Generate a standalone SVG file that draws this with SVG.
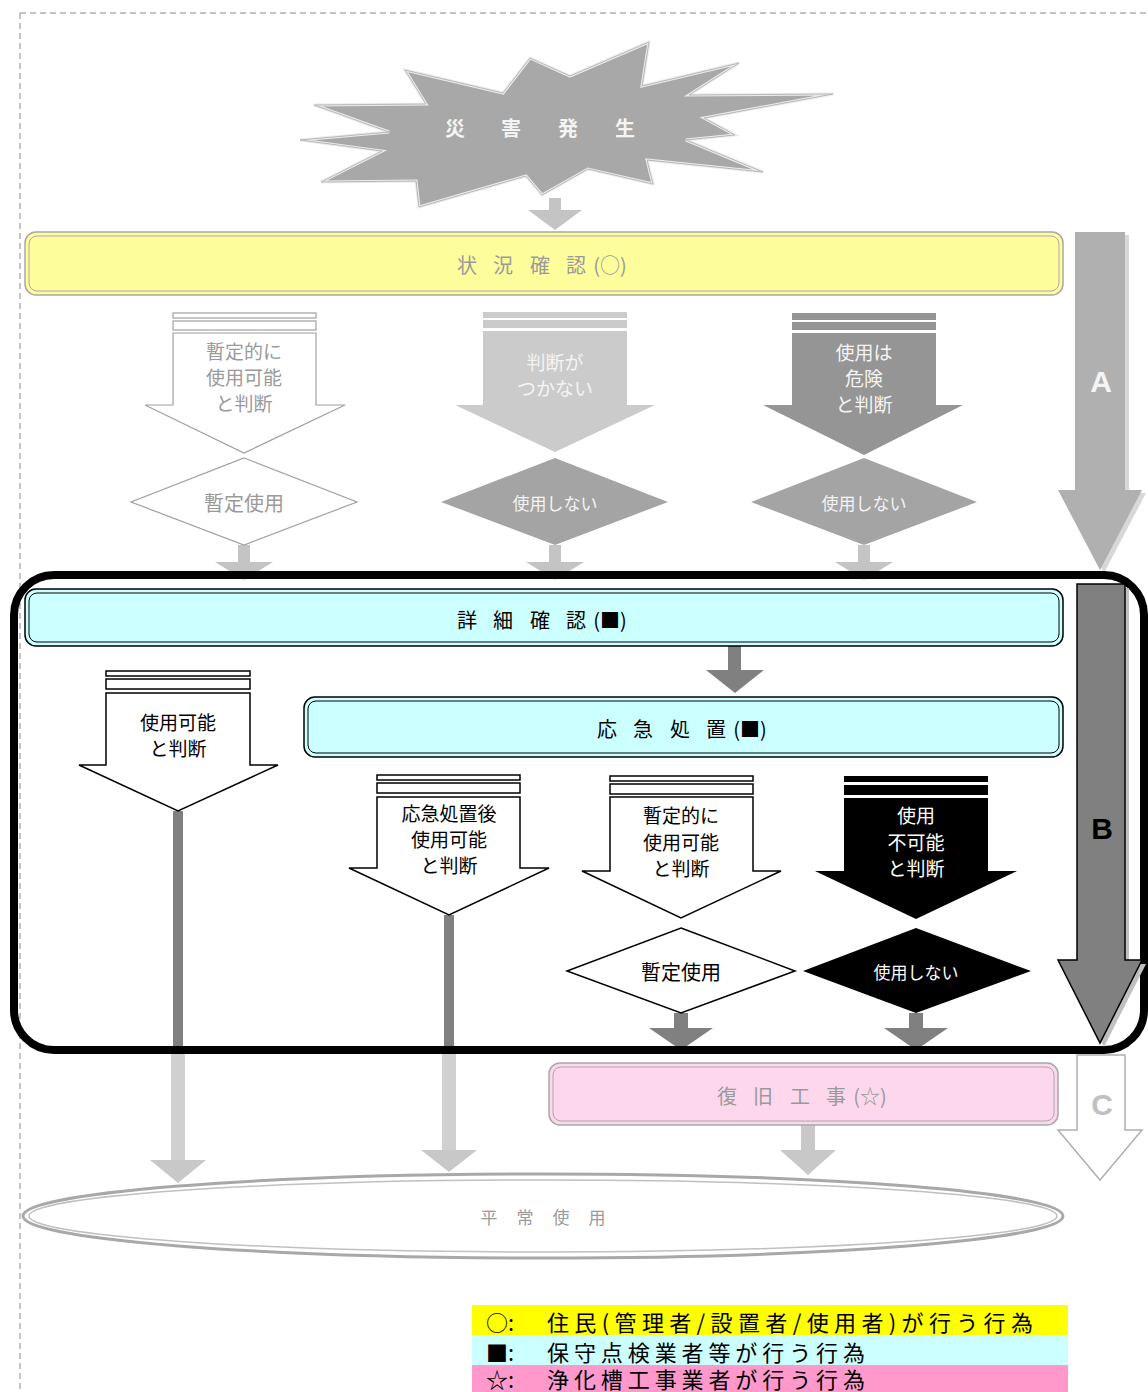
<svg xmlns="http://www.w3.org/2000/svg" width="1148" height="1392" viewBox="0 0 1148 1392">
<style>
text{font-family:"Noto Sans CJK JP","Noto Sans",sans-serif;text-anchor:middle;dominant-baseline:central}
.ft{fill:#9a9a9a}
.wt{fill:#f4f4f4}
.bk{fill:#000}
.lbl{font-size:19px}
.ttl{font-size:20px}
.sm{font-size:17px}
.fade{stroke:#a0a0a0;stroke-width:1.2}
.blk{stroke:#000;stroke-width:1.5}
.big{font-family:"Liberation Sans",Arial,sans-serif;font-weight:bold;font-size:30px}
.leg{font-size:22px;text-anchor:start}
</style>

<g id="frame-border">
<path d="M20 13 H1148 M20 13 V1392" fill="none" stroke="#888" stroke-width="1" stroke-dasharray="6 4"/>
</g>

<g id="disaster">
<polygon points="405,70 503,93 530,58 570,76 649,42 642,86 739,63 689,95 833,94 704,118 735,135 686,140 763,172 647,160 653,184 588,169 542,195 526,176 419,207 416,181 321,182 382,151 300,140 389,132 314,105 426,104" fill="#a8a8a8" stroke="#ececec" stroke-width="3"/>
<polygon points="405,70 503,93 530,58 570,76 649,42 642,86 739,63 689,95 833,94 704,118 735,135 686,140 763,172 647,160 653,184 588,169 542,195 526,176 419,207 416,181 321,182 382,151 300,140 389,132 314,105 426,104" fill="none" stroke="#b8b8b8" stroke-width="1"/>
<text x="455" y="127" class="ttl wt" font-weight="bold">災</text>
<text x="511" y="127" class="ttl wt" font-weight="bold">害</text>
<text x="568" y="127" class="ttl wt" font-weight="bold">発</text>
<text x="625" y="127" class="ttl wt" font-weight="bold">生</text>
</g>

<g id="connectors">
<polygon points="549,198 561,198 561,210 582,210 555,230 528,210 549,210" fill="#c4c4c4"/>
<polygon points="238,545 250,545 250,562 273,562 244,580 215,562 238,562" fill="#c4c4c4"/>
<polygon points="549,545 561,545 561,562 584,562 555,580 526,562 549,562" fill="#c4c4c4"/>
<polygon points="858,545 870,545 870,562 893,562 864,580 835,562 858,562" fill="#c4c4c4"/>
<polygon points="728,646 741,646 741,670 764,670 735,693 706,670 728,670" fill="#808080"/>
<rect x="173" y="811" width="10" height="236" fill="#808080"/>
<rect x="444" y="915" width="10" height="132" fill="#808080"/>
<rect x="171" y="1054" width="14" height="108" fill="#d0d0d0"/>
<polygon points="150,1160 206,1160 178,1183" fill="#c8c8c8"/>
<rect x="442" y="1054" width="14" height="98" fill="#d0d0d0"/>
<polygon points="421,1150 477,1150 449,1172" fill="#c8c8c8"/>
<polygon points="674,1013 688,1013 688,1028 713,1028 681,1050 649,1028 674,1028" fill="#808080"/>
<polygon points="909,1013 923,1013 923,1028 948,1028 916,1050 884,1028 909,1028" fill="#808080"/>
<polygon points="801,1125 815,1125 815,1150 836,1150 808,1175 780,1150 801,1150" fill="#c8c8c8"/>
</g>

<g id="arrow-A">
<polygon points="1079,235 1129,235 1129,493 1146,493 1104,573 1062,493 1079,493" fill="#d8d8d8"/>
<polygon points="1075,232 1125,232 1125,490 1142,490 1100,570 1058,490 1075,490" fill="#b0b0b0"/>
<text x="1101" y="381" class="big wt">A</text>
</g>

<g id="status-check">
<rect x="25" y="232" width="1038" height="63" rx="11" fill="#fdfd9c" stroke="#a8a8a8" stroke-width="1.5"/>
<rect x="29" y="236" width="1030" height="55" rx="8" fill="none" stroke="#a8a8a8" stroke-width="1"/>
<text x="467" y="264" class="ttl ft">状</text>
<text x="503" y="264" class="ttl ft">況</text>
<text x="540" y="264" class="ttl ft">確</text>
<text x="576" y="264" class="ttl ft">認</text>
<text x="610" y="264" class="ttl ft">(○)</text>
</g>

<g id="top-arrow-1">
<rect x="173" y="313" width="143" height="5" fill="#fff" class="fade"/>
<rect x="173" y="321" width="143" height="9" fill="#fff" class="fade"/>
<polygon points="173,333 316,333 316,405 345,405 244,453 145,405 173,405" fill="#fff" class="fade"/>
<text x="244" y="350" class="lbl ft">暫定的に</text>
<text x="244" y="376" class="lbl ft">使用可能</text>
<text x="244" y="402" class="lbl ft">と判断</text>
</g>

<g id="top-arrow-2">
<rect x="483" y="312" width="144" height="6" fill="#cbcbcb"/>
<rect x="483" y="320" width="144" height="8" fill="#cbcbcb"/>
<polygon points="483,331 627,331 627,405 655,405 555,452 455,405 483,405" fill="#cbcbcb"/>
<text x="555" y="361" class="lbl wt">判断が</text>
<text x="555" y="387" class="lbl wt">つかない</text>
</g>

<g id="top-arrow-3">
<rect x="792" y="313" width="144" height="7" fill="#959595"/>
<rect x="792" y="322" width="144" height="8" fill="#959595"/>
<polygon points="792,333 936,333 936,405 963,405 864,455 763,405 792,405" fill="#959595"/>
<text x="864" y="351" class="lbl wt">使用は</text>
<text x="864" y="377" class="lbl wt">危険</text>
<text x="864" y="403" class="lbl wt">と判断</text>
</g>

<g id="top-diamond-1">
<polygon points="244,458 357,502 244,545 131,502" fill="#fff" class="fade"/>
<text x="244" y="502" class="ttl ft">暫定使用</text>
</g>
<g id="top-diamond-2">
<polygon points="555,458 668,502 555,545 441,502" fill="#a4a4a4"/>
<text x="555" y="502" class="sm wt">使用しない</text>
</g>
<g id="top-diamond-3">
<polygon points="864,458 977,502 864,545 751,502" fill="#a4a4a4"/>
<text x="864" y="502" class="sm wt">使用しない</text>
</g>

<g id="detail-frame">
<rect x="14" y="575" width="1130" height="475" rx="40" fill="none" stroke="#000" stroke-width="8"/>
</g>

<g id="detail-check">
<rect x="25" y="589" width="1038" height="57" rx="11" fill="#ccffff" stroke="#000" stroke-width="1.5"/>
<rect x="29" y="593" width="1030" height="49" rx="8" fill="none" stroke="#000" stroke-width="1"/>
<text x="467" y="619" class="ttl bk">詳</text>
<text x="503" y="619" class="ttl bk">細</text>
<text x="540" y="619" class="ttl bk">確</text>
<text x="576" y="619" class="ttl bk">認</text>
<text x="610" y="619" class="ttl bk">(■)</text>
</g>

<g id="emergency">
<rect x="304" y="697" width="759" height="60" rx="11" fill="#ccffff" stroke="#000" stroke-width="1.5"/>
<rect x="308" y="701" width="751" height="52" rx="8" fill="none" stroke="#000" stroke-width="1"/>
<text x="607" y="728" class="ttl bk">応</text>
<text x="643" y="728" class="ttl bk">急</text>
<text x="680" y="728" class="ttl bk">処</text>
<text x="716" y="728" class="ttl bk">置</text>
<text x="750" y="728" class="ttl bk">(■)</text>
</g>

<g id="arrow-usable">
<rect x="106" y="671" width="144" height="5" fill="#fff" class="blk"/>
<rect x="106" y="679" width="144" height="10" fill="#fff" class="blk"/>
<polygon points="106,693 250,693 250,765 278,765 178,811 79,765 106,765" fill="#fff" class="blk"/>
<text x="178" y="721" class="lbl bk">使用可能</text>
<text x="178" y="747" class="lbl bk">と判断</text>
</g>

<g id="arrow-after-emergency">
<rect x="377" y="775" width="143" height="5" fill="#fff" class="blk"/>
<rect x="377" y="783" width="143" height="10" fill="#fff" class="blk"/>
<polygon points="377,797 520,797 520,868 549,868 449,915 349,868 377,868" fill="#fff" class="blk"/>
<text x="449" y="812" class="lbl bk">応急処置後</text>
<text x="449" y="838" class="lbl bk">使用可能</text>
<text x="449" y="864" class="lbl bk">と判断</text>
</g>

<g id="arrow-provisional">
<rect x="610" y="776" width="143" height="5" fill="#fff" class="blk"/>
<rect x="610" y="784" width="143" height="10" fill="#fff" class="blk"/>
<polygon points="610,797 753,797 753,871 781,871 681,918 582,871 610,871" fill="#fff" class="blk"/>
<text x="681" y="814" class="lbl bk">暫定的に</text>
<text x="681" y="841" class="lbl bk">使用可能</text>
<text x="681" y="867" class="lbl bk">と判断</text>
</g>

<g id="arrow-unusable">
<rect x="844" y="776" width="144" height="6" fill="#000"/>
<rect x="844" y="785" width="144" height="10" fill="#000"/>
<polygon points="844,798 988,798 988,871 1017,871 916,919 815,871 844,871" fill="#000"/>
<text x="916" y="814" class="lbl" fill="#fff">使用</text>
<text x="916" y="841" class="lbl" fill="#fff">不可能</text>
<text x="916" y="867" class="lbl" fill="#fff">と判断</text>
</g>

<g id="diamond-provisional">
<polygon points="681,928 795,971 681,1013 567,971" fill="#fff" class="blk"/>
<text x="681" y="971" class="ttl bk">暫定使用</text>
</g>
<g id="diamond-nouse">
<polygon points="916,928 1031,971 916,1013 803,971" fill="#000"/>
<text x="916" y="971" class="sm" fill="#fff">使用しない</text>
</g>

<g id="arrow-B">
<polygon points="1081,588 1129,588 1129,964 1146,964 1104,1047 1062,964 1081,964" fill="#c0c0c0"/>
<polygon points="1077,584 1125,584 1125,960 1142,960 1100,1043 1058,960 1077,960" fill="#808080" stroke="#000" stroke-width="1.5"/>
<text x="1102" y="828" class="big bk">B</text>
</g>

<g id="restoration">
<rect x="549" y="1063" width="509" height="62" rx="11" fill="#fdd8ec" stroke="#a8a8a8" stroke-width="1.5"/>
<rect x="553" y="1067" width="501" height="54" rx="8" fill="none" stroke="#a8a8a8" stroke-width="1"/>
<text x="727" y="1095" class="ttl ft">復</text>
<text x="763" y="1095" class="ttl ft">旧</text>
<text x="800" y="1095" class="ttl ft">工</text>
<text x="836" y="1095" class="ttl ft">事</text>
<text x="870" y="1095" class="ttl ft">(☆)</text>
</g>

<g id="arrow-C">
<polygon points="1077,1055 1125,1055 1125,1130 1142,1130 1100,1180 1058,1130 1077,1130" fill="#fff" stroke="#b0b0b0" stroke-width="1.5"/>
<text x="1102" y="1104" class="big" fill="#c0c0c0">C</text>
</g>

<g id="normal-use">
<ellipse cx="543" cy="1216" rx="520" ry="42" fill="none" stroke="#a8a8a8" stroke-width="3"/>
<ellipse cx="543" cy="1216" rx="514" ry="36" fill="none" stroke="#c0c0c0" stroke-width="1.5"/>
<text x="489" y="1216" class="sm ft">平</text>
<text x="525" y="1216" class="sm ft">常</text>
<text x="561" y="1216" class="sm ft">使</text>
<text x="597" y="1216" class="sm ft">用</text>
</g>

<g id="legend">
<rect x="472" y="1305" width="596" height="30" fill="#ffff00"/>
<rect x="472" y="1335" width="596" height="30" fill="#ccffff"/>
<rect x="472" y="1365" width="596" height="27" fill="#ff99cc"/>
<text x="486" y="1321" class="leg bk">○:</text>
<text x="547" y="1321" class="leg bk" textLength="486" lengthAdjust="spacing">住民(管理者/設置者/使用者)が行う行為</text>
<text x="486" y="1351" class="leg bk">■:</text>
<text x="547" y="1351" class="leg bk" textLength="318" lengthAdjust="spacing">保守点検業者等が行う行為</text>
<text x="486" y="1378" class="leg bk">☆:</text>
<text x="547" y="1378" class="leg bk" textLength="318" lengthAdjust="spacing">浄化槽工事業者が行う行為</text>
</g>
</svg>
